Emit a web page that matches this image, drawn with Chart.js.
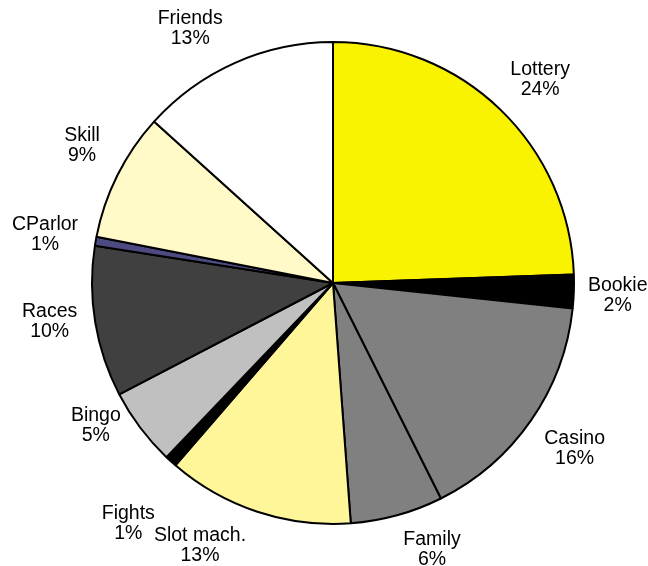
<!DOCTYPE html>
<html>
<head>
<meta charset="utf-8">
<script src="https://cdn.jsdelivr.net/npm/chart.js@4"></script>
<style>
    body { margin: 0; background: #fff; }
    #wrap { width: 648px; height: 566px; }
</style>
</head>
<body>
<div id="wrap"><canvas id="pie"></canvas></div>
<script>
// Chart data
const categories = ["Lottery", "Bookie", "Casino", "Family", "Slot mach.", "Fights",
    "Bingo", "Races", "CParlor", "Skill", "Friends"]
const shares = [24.4, 2.25, 15.9, 6.2, 12.5, 0.8, 5.2, 10.1, 0.6, 8.6, 13.3]
const sliceColors = ["#f9f200", "#000000", "#808080", "#808080", "#fff69a", "#000000",
    "#c0c0c0", "#404040", "#4c4a80", "#fffac8", "#ffffff"]

// Label placement: angle shift (deg) and distance past the rim (px)
const labelShift = [1.6, 0.6, -0.3, -5.0, 8.6, -1.9, 5.8, 1.5, -0.4, 2.1, -5.3]
const labelGap = [49, 44, 52, 43, 53, 75, 36, 45, 51, 45, 51]

const pieLabels = {
    id: 'pieLabels',
    afterDatasetsDraw(chart) {
        const ctx = chart.ctx
        const meta = chart.getDatasetMeta(0)
        const total = shares.reduce((a, b) => a + b, 0)
        ctx.save()
        ctx.font = '19.5px "Liberation Sans", Arial, sans-serif'
        ctx.fillStyle = '#000'
        ctx.textAlign = 'center'
        ctx.textBaseline = 'middle'
        meta.data.forEach((arc, i) => {
            const p = arc.getProps(['x', 'y', 'startAngle', 'endAngle', 'outerRadius'], true)
            const mid = (p.startAngle + p.endAngle) / 2 + labelShift[i] * Math.PI / 180
            const d = p.outerRadius + labelGap[i]
            const cx = p.x + Math.cos(mid) * d
            const cy = p.y + Math.sin(mid) * d
            ctx.fillText(categories[i], cx, cy - 10)
            ctx.fillText(Math.round(shares[i] / total * 100) + '%', cx, cy + 10)
        })
        ctx.restore()
    }
}

new Chart(
    document.getElementById("pie"),
    {
        type: 'pie',
        data: {
            labels: categories,
            datasets: [
                {
                    data: shares,
                    backgroundColor: sliceColors,
                    borderColor: '#000',
                    borderWidth: 2,
                    borderAlign: 'center'
                }
            ]
        },
        options: {
            responsive: true,
            maintainAspectRatio: false,
            animation: false,
            layout: { padding: { left: 91, right: 73, top: 41, bottom: 41 } },
            plugins: {
                legend: { display: false },
                tooltip: { enabled: false }
            }
        },
        plugins: [pieLabels]
    }
);
</script>
</body>
</html>
